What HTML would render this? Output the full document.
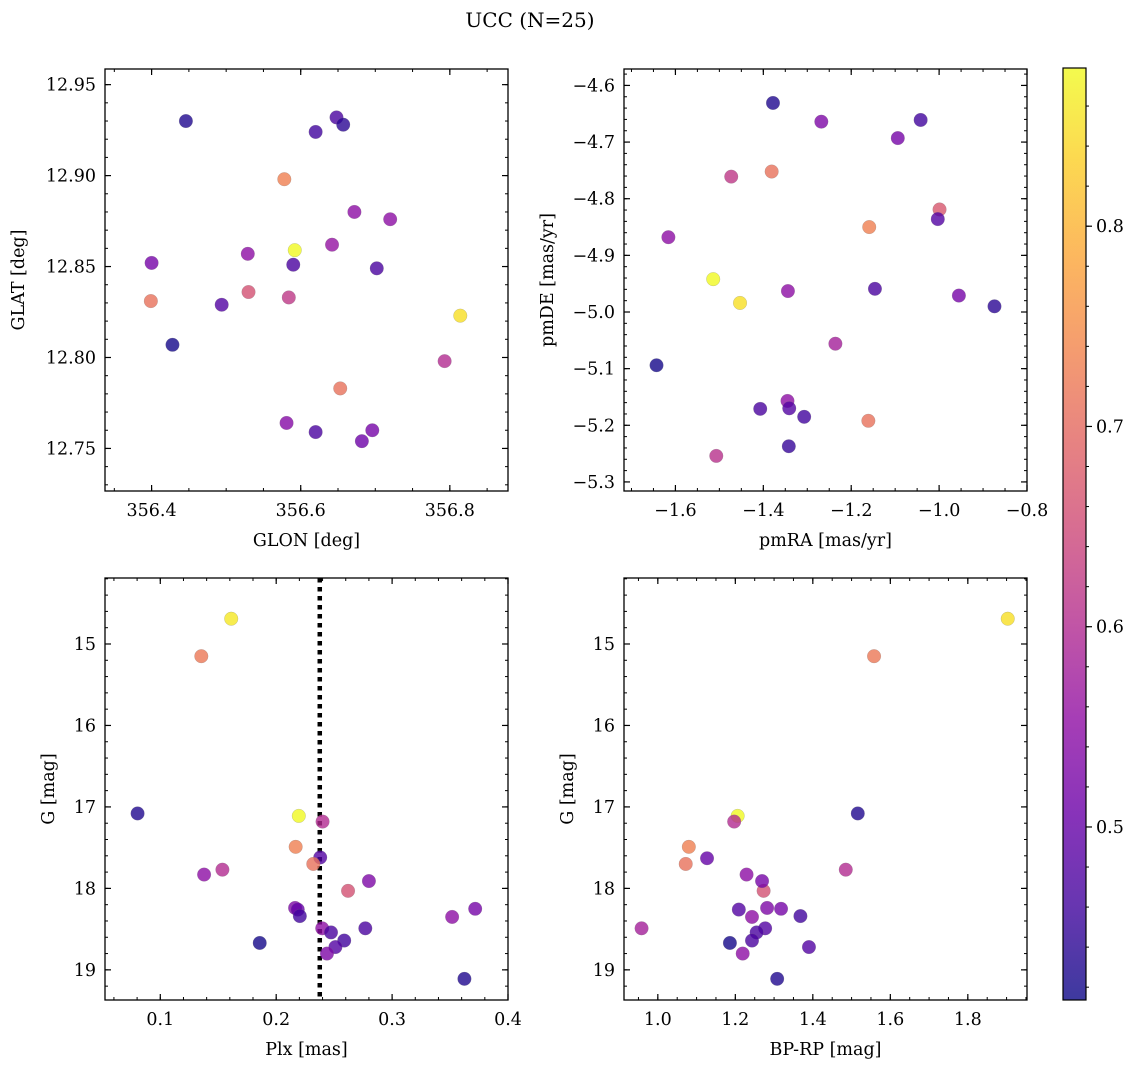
<!DOCTYPE html>
<html><head><meta charset="utf-8">
<style>
html,body{margin:0;padding:0;background:#fff;}
svg{display:block;font-family:"DejaVu Serif","Liberation Serif",serif;}
</style></head>
<body>
<svg id="fig" width="1136" height="1068" viewBox="0 0 1136 1068" xmlns="http://www.w3.org/2000/svg">
<text x="530" y="27" font-size="20" text-anchor="middle">UCC (N=25)</text>
</svg>
<script>
// Panel 1: GLON vs GLAT
const glon = [356.446,356.620,356.648,356.657,356.578,356.672,356.720,356.592,356.529,356.642,356.590,356.400,356.702,356.399,356.530,356.584,356.494,356.814,356.428,356.793,356.653,356.581,356.620,356.696,356.682];
const glat = [12.930,12.924,12.932,12.928,12.898,12.880,12.876,12.859,12.857,12.862,12.851,12.852,12.849,12.831,12.836,12.833,12.829,12.823,12.807,12.798,12.783,12.764,12.759,12.760,12.754];
const c1 = [0.43,0.46,0.47,0.44,0.73,0.55,0.55,0.88,0.55,0.56,0.47,0.52,0.47,0.71,0.66,0.62,0.48,0.85,0.42,0.60,0.71,0.54,0.47,0.52,0.51];
// Panel 2: pmRA vs pmDE
const pmra = [-1.378,-1.268,-1.042,-1.094,-1.473,-1.381,-0.999,-1.003,-1.159,-1.616,-1.514,-1.453,-1.344,-1.146,-0.955,-0.874,-1.236,-1.643,-1.345,-1.341,-1.407,-1.307,-1.161,-1.342,-1.507];
const pmde = [-4.631,-4.664,-4.661,-4.693,-4.761,-4.752,-4.819,-4.836,-4.850,-4.868,-4.942,-4.984,-4.963,-4.959,-4.971,-4.990,-5.056,-5.094,-5.157,-5.170,-5.171,-5.185,-5.192,-5.237,-5.254];
const c2 = [0.43,0.53,0.46,0.52,0.62,0.71,0.67,0.48,0.73,0.55,0.88,0.85,0.55,0.47,0.52,0.44,0.58,0.42,0.55,0.48,0.47,0.46,0.71,0.45,0.61];
// Panel 3: Plx vs G
const plx = [0.1612,0.1354,0.0804,0.2195,0.240,0.2168,0.238,0.232,0.1536,0.1378,0.262,0.280,0.2163,0.2186,0.2204,0.2397,0.2473,0.2587,0.2511,0.2438,0.2769,0.3518,0.3717,0.1858,0.3624];
const g3 = [14.69,15.15,17.08,17.11,17.18,17.49,17.62,17.70,17.77,17.83,18.03,17.91,18.24,18.26,18.34,18.49,18.54,18.64,18.72,18.80,18.49,18.35,18.25,18.67,19.11];
const c3 = [0.86,0.72,0.43,0.88,0.60,0.73,0.48,0.71,0.60,0.55,0.66,0.53,0.53,0.50,0.46,0.55,0.47,0.46,0.48,0.53,0.47,0.55,0.52,0.42,0.43];
const plxLine = [0.2376];
// Panel 4: BP-RP vs G
const bprp = [1.903,1.558,1.516,1.206,1.197,1.080,1.127,1.072,1.485,1.229,1.273,1.269,1.209,1.282,1.318,1.243,1.368,0.958,1.277,1.255,1.243,1.186,1.390,1.219,1.308];
const g4 = [14.69,15.15,17.08,17.11,17.18,17.49,17.63,17.70,17.77,17.83,18.03,17.91,18.26,18.24,18.25,18.35,18.34,18.49,18.49,18.54,18.64,18.67,18.72,18.80,19.11];
const c4 = [0.85,0.72,0.43,0.88,0.60,0.73,0.50,0.71,0.60,0.55,0.66,0.52,0.48,0.53,0.52,0.55,0.46,0.58,0.48,0.47,0.47,0.42,0.48,0.55,0.43];
// Tick labels
const ticks1x = [356.4,356.6,356.8];
const ticks1y = [12.75,12.80,12.85,12.90,12.95];
const ticks2x = [-1.6,-1.4,-1.2,-1.0,-0.8];
const ticks2y = [-5.3,-5.2,-5.1,-5.0,-4.9,-4.8,-4.7,-4.6];
const ticks3x = [0.1,0.2,0.3,0.4];
const ticksG = [15,16,17,18,19];
const ticks4x = [1.0,1.2,1.4,1.6,1.8];
const ticksC = [0.5,0.6,0.7,0.8];

const NS = "http://www.w3.org/2000/svg";
const svg = document.getElementById('fig');
const CMIN = 0.4136, CMAX = 0.879;
const FS = 17.5;
const stops = ["#0d0887","#41049d","#6a00a8","#8f0da4","#b12a90","#cc4778","#e16462","#f2844b","#fca636","#fcce25","#f0f921"];
function hex(h){return [parseInt(h.substr(1,2),16),parseInt(h.substr(3,2),16),parseInt(h.substr(5,2),16)];}
function plasma(t){t=Math.max(0,Math.min(1,t));const f=t*10;const i=Math.min(9,Math.floor(f));const r=f-i;const a=hex(stops[i]),b=hex(stops[i+1]);
return 'rgb('+a.map((v,k)=>Math.round(v+(b[k]-v)*r)).join(',')+')';}
function cmap(v){return plasma((v-CMIN)/(CMAX-CMIN));}
function mk(tag,attrs,parent){const e=document.createElementNS(NS,tag);for(const k in attrs)e.setAttribute(k,attrs[k]);(parent||svg).appendChild(e);return e;}
function fmt(v,d){const s=Math.abs(v).toFixed(d);return (v<0?'\u2212':'')+s;}

function panel(o){
  const g=mk('g',{});
  
  
  const sx=v=>o.x0+(v-o.xmin)/(o.xmax-o.xmin)*(o.x1-o.x0);
  const sy=v=>o.inv? o.y0+(v-o.ymin)/(o.ymax-o.ymin)*(o.y1-o.y0) : o.y1-(v-o.ymin)/(o.ymax-o.ymin)*(o.y1-o.y0);
  const eps=1e-9;
  for(let v=Math.ceil(o.xmin/o.xminor-eps)*o.xminor; v<=o.xmax+eps; v+=o.xminor){const x=sx(v);
    mk('line',{x1:x,x2:x,y1:o.y1,y2:o.y1-3,stroke:'#000','stroke-width':1},g);
    mk('line',{x1:x,x2:x,y1:o.y0,y2:o.y0+3,stroke:'#000','stroke-width':1},g);}
  for(let v=Math.ceil(o.ymin/o.yminor-eps)*o.yminor; v<=o.ymax+eps; v+=o.yminor){const y=sy(v);
    mk('line',{x1:o.x0,x2:o.x0+3,y1:y,y2:y,stroke:'#000','stroke-width':1},g);
    mk('line',{x1:o.x1,x2:o.x1-3,y1:y,y2:y,stroke:'#000','stroke-width':1},g);}
  o.xt.forEach(v=>{const x=sx(v);
    mk('line',{x1:x,x2:x,y1:o.y1,y2:o.y1-6,stroke:'#000','stroke-width':1.2},g);
    mk('line',{x1:x,x2:x,y1:o.y0,y2:o.y0+6,stroke:'#000','stroke-width':1.2},g);
    const t=mk('text',{x:x,y:o.y1+25,'font-size':FS,'text-anchor':'middle'},g);t.textContent=fmt(v,o.xd);
    
    });
  o.yt.forEach(v=>{const y=sy(v);
    mk('line',{x1:o.x0,x2:o.x0+6,y1:y,y2:y,stroke:'#000','stroke-width':1.2},g);
    mk('line',{x1:o.x1,x2:o.x1-6,y1:y,y2:y,stroke:'#000','stroke-width':1.2},g);
    const t=mk('text',{x:o.x0-9,y:y+6,'font-size':FS,'text-anchor':'end'},g);t.textContent=fmt(v,o.yd);
    
    });
  if(o.vline!==undefined){const x=sx(o.vline);
    const l=mk('line',{x1:x,x2:x,y1:o.y0,y2:o.y1,stroke:'#000','stroke-width':4.5,'stroke-dasharray':'4.5 4.5'},g);
    
    }
  for(let i=0;i<o.xs.length;i++){
    const c=mk('circle',{cx:sx(o.xs[i]),cy:sy(o.ys[i]),r:6.8,fill:cmap(o.cs[i]),'fill-opacity':0.8,stroke:'#777','stroke-opacity':0.4,'stroke-width':0.5},g);
    
    
  }
  mk('rect',{x:o.x0,y:o.y0,width:o.x1-o.x0,height:o.y1-o.y0,fill:'none',stroke:'#000','stroke-width':1.3},g);
  const xl=mk('text',{x:(o.x0+o.x1)/2,y:o.y1+55,'font-size':FS,'text-anchor':'middle'},g);xl.textContent=o.xlab;
  
  
  const yl=mk('text',{x:0,y:0,'font-size':FS,'text-anchor':'middle',transform:'translate('+o.ylx+','+((o.y0+o.y1)/2)+') rotate(-90)'},g);yl.textContent=o.ylab;
  
  
}

panel({name:'glon-glat-panel',x0:105,x1:508,y0:69,y1:491,xmin:356.3375,xmax:356.878,ymin:12.7266,ymax:12.9586,
  xt:ticks1x,yt:ticks1y,xd:1,yd:2,xminor:0.05,yminor:0.01,xs:glon,ys:glat,cs:c1,xlab:'GLON [deg]',ylab:'GLAT [deg]',ylx:24});
panel({name:'pm-panel',x0:624,x1:1027,y0:69,y1:491,xmin:-1.717,xmax:-0.8,ymin:-5.316,ymax:-4.571,
  xt:ticks2x,yt:ticks2y,xd:1,yd:1,xminor:0.05,yminor:0.02,xs:pmra,ys:pmde,cs:c2,xlab:'pmRA [mas/yr]',ylab:'pmDE [mas/yr]',ylx:553});
panel({name:'plx-g-panel',x0:105,x1:508,y0:578,y1:1000,xmin:0.0523,xmax:0.4,ymin:14.19,ymax:19.37,inv:true,
  xt:ticks3x,yt:ticksG,xd:1,yd:0,xminor:0.02,yminor:0.2,xs:plx,ys:g3,cs:c3,xlab:'Plx [mas]',ylab:'G [mag]',ylx:54,vline:plxLine[0]});
panel({name:'cmd-panel',x0:624,x1:1027,y0:578,y1:1000,xmin:0.9127,xmax:1.9527,ymin:14.19,ymax:19.37,inv:true,
  xt:ticks4x,yt:ticksG,xd:1,yd:0,xminor:0.05,yminor:0.2,xs:bprp,ys:g4,cs:c4,xlab:'BP-RP [mag]',ylab:'G [mag]',ylx:573});

(function(){
  const x0=1063,x1=1086,y0=68,y1=1000;
  const g=mk('g',{});
  
  
  const defs=mk('defs',{},g);
  const lg=mk('linearGradient',{id:'cg',x1:0,y1:1,x2:0,y2:0},defs);
  for(let k=0;k<=20;k++){mk('stop',{offset:(k/20),'stop-color':plasma(k/20)},lg);}
  mk('rect',{x:x0,y:y0,width:x1-x0,height:y1-y0,fill:'url(#cg)','fill-opacity':0.8},g);
  const sy=v=>y1-(v-CMIN)/(CMAX-CMIN)*(y1-y0);
  for(let v=0.42; v<=CMAX; v+=0.02){const y=sy(v);mk('line',{x1:x1,x2:x1+3,y1:y,y2:y,stroke:'#000','stroke-width':1},g);}
  ticksC.forEach(v=>{const y=sy(v);
    mk('line',{x1:x1,x2:x1+6,y1:y,y2:y,stroke:'#000','stroke-width':1.2},g);
    const t=mk('text',{x:x1+10,y:y+6,'font-size':FS},g);t.textContent=v.toFixed(1);
    
    });
  mk('rect',{x:x0,y:y0,width:x1-x0,height:y1-y0,fill:'none',stroke:'#000','stroke-width':1.2},g);
})();
</script>
</body></html>
